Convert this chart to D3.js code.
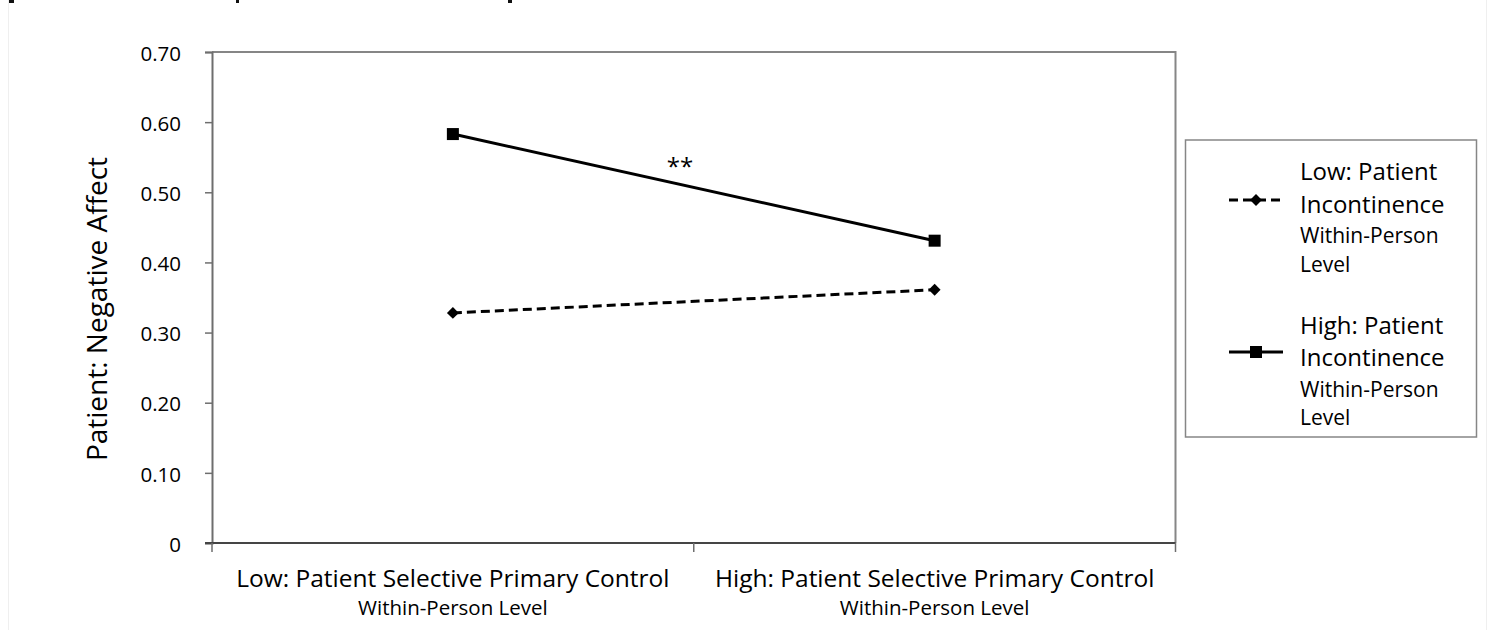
<!DOCTYPE html>
<html>
<head>
<meta charset="utf-8">
<script src="https://cdn.jsdelivr.net/npm/d3@7"></script>
<style>
  html, body { margin: 0; padding: 0; background: #fff; }
  svg { display: block; font-family: "Open Sans", Lato, sans-serif; }
  svg text { fill: #000; }
</style>
</head>
<body>
<svg id="chart" width="1491" height="630"></svg>
<script>
// Categories on the x axis (main label + sub label)
const categories = ["Low: Patient Selective Primary Control", "High: Patient Selective Primary Control"];
const categorySub = ["Within-Person Level", "Within-Person Level"];

// Series: negative affect at each level of selective primary control
const seriesNames = ["Low: Patient Incontinence", "High: Patient Incontinence"];
const lowIncontinence = [0.328, 0.361];
const highIncontinence = [0.583, 0.431];

// Y-axis tick values and labels
const yTicks = [0, 0.1, 0.2, 0.3, 0.4, 0.5, 0.6, 0.7];
const yTickLabels = ["0", "0.10", "0.20", "0.30", "0.40", "0.50", "0.60", "0.70"];

const FONT = "'Open Sans', Lato, sans-serif";
const svg = d3.select("#chart");
const plot = { left: 212, right: 1175.5, top: 52, bottom: 543 };

const x = d3.scaleBand().domain(categories).range([plot.left, plot.right]);
const y = d3.scaleLinear().domain([0, 0.7]).range([plot.bottom, plot.top]);

// faint page edges and small marks along the top edge
svg.append("line").attr("x1", 8.5).attr("x2", 8.5).attr("y1", 0).attr("y2", 630)
  .attr("stroke", "#efefef").attr("stroke-width", 1);
svg.append("line").attr("x1", 1486.5).attr("x2", 1486.5).attr("y1", 0).attr("y2", 630)
  .attr("stroke", "#efefef").attr("stroke-width", 1);
[[9, 5], [236, 3], [508, 4]].forEach(([mx, mw]) => {
  svg.append("rect").attr("x", mx).attr("y", 0).attr("width", mw).attr("height", 3).attr("fill", "#111");
});

// plot area frame (top and right edges)
svg.append("path")
  .attr("d", `M${plot.left},${plot.top}H${plot.right}V${plot.bottom}`)
  .attr("fill", "none").attr("stroke", "#868686").attr("stroke-width", 2);

// y axis
const yAxis = d3.axisLeft(y).tickValues(yTicks)
  .tickFormat((d, i) => yTickLabels[i]).tickSize(7).tickPadding(24);
const gy = svg.append("g").attr("transform", `translate(${plot.left},0)`).call(yAxis);
gy.attr("font-family", FONT);
gy.select(".domain").attr("stroke", "#6e6e6e").attr("stroke-width", 2);
gy.selectAll(".tick line").attr("stroke", "#6e6e6e").attr("stroke-width", 1.5);
gy.selectAll(".tick text").attr("font-size", 20.5).attr("fill", "#000")
  .attr("font-family", FONT).attr("dy", "0.4em");

// x axis: ticks on band boundaries
const bounds = [plot.left, plot.left + x.bandwidth(), plot.right];
const gx = svg.append("g");
gx.append("line").attr("x1", plot.left - 7).attr("x2", plot.right)
  .attr("y1", plot.bottom).attr("y2", plot.bottom)
  .attr("stroke", "#454545").attr("stroke-width", 2);
gx.selectAll("line.tk").data(bounds).join("line").attr("class", "tk")
  .attr("x1", d => d).attr("x2", d => d)
  .attr("y1", plot.bottom).attr("y2", plot.bottom + 9)
  .attr("stroke", "#6e6e6e").attr("stroke-width", 1.5);

// x category labels
gx.selectAll("text.main").data(categories).join("text").attr("class", "main")
  .attr("x", d => x(d) + x.bandwidth() / 2).attr("y", 587)
  .attr("text-anchor", "middle").attr("font-size", 24.5)
  .text(d => d);
gx.selectAll("text.sub").data(categorySub).join("text").attr("class", "sub")
  .attr("x", (d, i) => x(categories[i]) + x.bandwidth() / 2).attr("y", 615)
  .attr("text-anchor", "middle").attr("font-size", 20.5)
  .text(d => d);

// y axis title
svg.append("text")
  .attr("transform", "translate(107,309) rotate(-90)")
  .attr("text-anchor", "middle").attr("font-size", 28)
  .text("Patient: Negative Affect");

const cx = d => x(d) + x.bandwidth() / 2;
const line = d3.line().x(d => cx(d.cat)).y(d => y(d.v));

const lowData = categories.map((c, i) => ({ cat: c, v: lowIncontinence[i] }));
const highData = categories.map((c, i) => ({ cat: c, v: highIncontinence[i] }));

// low incontinence: dashed with diamonds
svg.append("path").datum(lowData).attr("d", line)
  .attr("fill", "none").attr("stroke", "#000").attr("stroke-width", 3)
  .attr("stroke-dasharray", "9,5");
const diamond = d3.symbol().type(d3.symbolDiamond2).size(90);
svg.selectAll("path.dm").data(lowData).join("path").attr("class", "dm")
  .attr("d", diamond)
  .attr("transform", d => `translate(${cx(d.cat)},${y(d.v)})`)
  .attr("fill", "#000");

// high incontinence: solid with squares
svg.append("path").datum(highData).attr("d", line)
  .attr("fill", "none").attr("stroke", "#000").attr("stroke-width", 3);
svg.selectAll("rect.sq").data(highData).join("rect").attr("class", "sq")
  .attr("x", d => cx(d.cat) - 6).attr("y", d => y(d.v) - 6)
  .attr("width", 12).attr("height", 12).attr("fill", "#000");

// significance marker
svg.append("text").attr("x", 680).attr("y", 175).attr("text-anchor", "middle")
  .attr("font-size", 24).text("**");

// legend
const lg = svg.append("g");
lg.append("rect").attr("x", 1185.5).attr("y", 140).attr("width", 291).attr("height", 297)
  .attr("fill", "#fff").attr("stroke", "#868686").attr("stroke-width", 1.5);

const legendRows = [
  { name: seriesNames[0], lineY: 200, base: [180, 213, 243, 272], dashed: true },
  { name: seriesNames[1], lineY: 352, base: [334, 366, 397, 425], dashed: false }
];
legendRows.forEach(r => {
  const parts = r.name.split(" ");
  const first = parts[0] + " " + parts[1];
  const second = parts.slice(2).join(" ");
  const ly = r.lineY;
  lg.append("line").attr("x1", 1229).attr("x2", 1283).attr("y1", ly).attr("y2", ly)
    .attr("stroke", "#000").attr("stroke-width", 3)
    .attr("stroke-dasharray", r.dashed ? "9,5" : null);
  if (r.dashed) {
    lg.append("path").attr("d", diamond).attr("transform", `translate(1256,${ly})`).attr("fill", "#000");
  } else {
    lg.append("rect").attr("x", 1250).attr("y", ly - 6).attr("width", 12).attr("height", 12).attr("fill", "#000");
  }
  lg.append("text").attr("x", 1300).attr("y", r.base[0]).attr("font-size", 24).text(first);
  lg.append("text").attr("x", 1300).attr("y", r.base[1]).attr("font-size", 24).text(second);
  lg.append("text").attr("x", 1300).attr("y", r.base[2]).attr("font-size", 21).text("Within-Person");
  lg.append("text").attr("x", 1300).attr("y", r.base[3]).attr("font-size", 21).text("Level");
});
</script>
</body>
</html>
